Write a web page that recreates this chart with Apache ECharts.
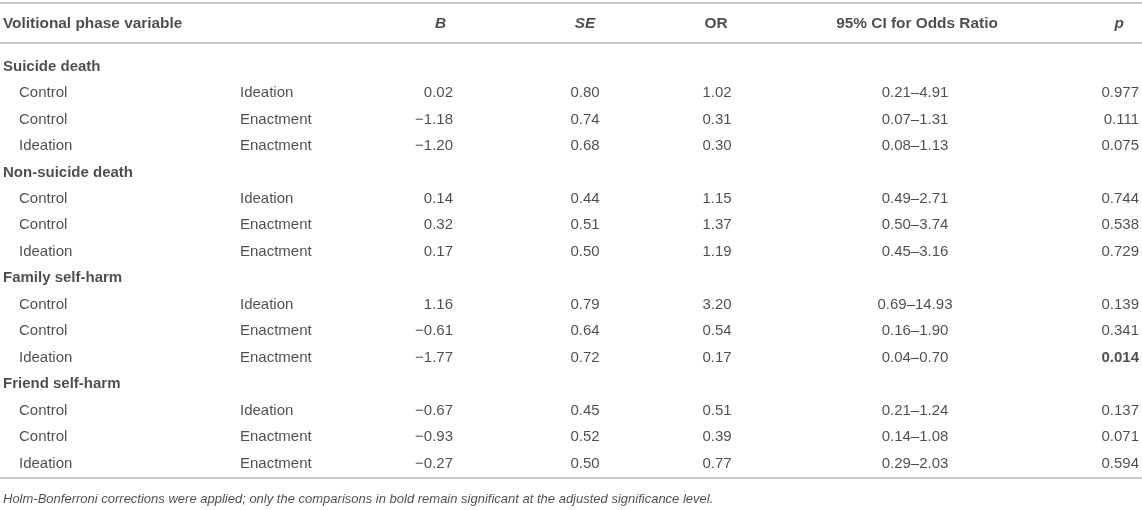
<!DOCTYPE html>
<html>
<head>
<meta charset="utf-8">
<script src="https://cdn.jsdelivr.net/npm/echarts@6/dist/echarts.min.js"></script>
<style>
html,body{margin:0;padding:0;background:#fff;}
#chart{width:1142px;height:510px;}
</style>
</head>
<body>
<div id="chart"></div>
<script>
// ---------- data ----------
const headers = ['Volitional phase variable', 'B', 'SE', 'OR', '95% CI for Odds Ratio', 'p'];
const groups = ['Suicide death', 'Non-suicide death', 'Family self-harm', 'Friend self-harm'];
const compFrom = ['Control', 'Control', 'Ideation'];
const compTo = ['Ideation', 'Enactment', 'Enactment'];
const bValues = [0.02, -1.18, -1.20, 0.14, 0.32, 0.17, 1.16, -0.61, -1.77, -0.67, -0.93, -0.27];
const seValues = [0.80, 0.74, 0.68, 0.44, 0.51, 0.50, 0.79, 0.64, 0.72, 0.45, 0.52, 0.50];
const orValues = [1.02, 0.31, 0.30, 1.15, 1.37, 1.19, 3.20, 0.54, 0.17, 0.51, 0.39, 0.77];
const ciLow = [0.21, 0.07, 0.08, 0.49, 0.50, 0.45, 0.69, 0.16, 0.04, 0.21, 0.14, 0.29];
const ciHigh = [4.91, 1.31, 1.13, 2.71, 3.74, 3.16, 14.93, 1.90, 0.70, 1.24, 1.08, 2.03];
const pValues = [0.977, 0.111, 0.075, 0.744, 0.538, 0.729, 0.139, 0.341, 0.014, 0.137, 0.071, 0.594];
const significant = [false, false, false, false, false, false, false, false, true, false, false, false];
const footnote = 'Holm-Bonferroni corrections were applied; only the comparisons in bold remain significant at the adjusted significance level.';

// ---------- layout ----------
const FONT = "'Liberation Sans', Arial, Helvetica, sans-serif";
const TXT = '#231f20';
const RULE = '#b4b4b4';
const COL = { group: 3, from: 19, to: 240, b: 453, se: 585, or: 717, ci: 915, p: 1139 };
const HEAD_COL = [
  { x: 3, align: 'left', italic: false },
  { x: 446, align: 'right', italic: true },
  { x: 585, align: 'center', italic: true },
  { x: 716, align: 'center', italic: false },
  { x: 917, align: 'center', italic: false },
  { x: 1124, align: 'right', italic: true }
];
const HEADER_ROW = -1.6, TOP_RULE = -2.34, HEAD_RULE = -0.83, BOTTOM_RULE = 15.6, FOOT_ROW = 16.36;

const fmt = (v, d) => (v < 0 ? '\u2212' : '') + Math.abs(v).toFixed(d);

// row index: group header at g*4, its rows at g*4 + k + 1
const rowOf = i => Math.floor(i / 3) * 4 + (i % 3) + 1;

function textSeries(name, points, align, opts) {
  opts = opts || {};
  return {
    name: name, type: 'scatter', symbolSize: 0, silent: true, clip: false,
    data: points.map(p => ({
      value: [p.x, p.y],
      label: p.bold ? { fontWeight: 'bold' } : undefined,
      txt: p.t
    })),
    label: {
      show: true, position: 'inside', align: align, verticalAlign: 'middle',
      offset: [0, 1.5],
      color: TXT, fontFamily: FONT, fontSize: opts.size || 15,
      fontWeight: opts.weight || 'normal', fontStyle: opts.style || 'normal',
      formatter: prm => prm.data.txt
    }
  };
}

const series = [];
// header
headers.forEach((h, i) => {
  const c = HEAD_COL[i];
  series.push(textSeries('h' + i, [{ x: c.x, y: HEADER_ROW, t: h }], c.align,
    { weight: 'bold', size: 15.4, style: c.italic ? 'italic' : 'normal' }));
});
// group titles
series.push(textSeries('groups', groups.map((g, i) => ({ x: COL.group, y: i * 4, t: g })), 'left', { weight: 'bold' }));
// rows
const idx = bValues.map((_, i) => i);
series.push(textSeries('from', idx.map(i => ({ x: COL.from, y: rowOf(i), t: compFrom[i % 3] })), 'left'));
series.push(textSeries('to', idx.map(i => ({ x: COL.to, y: rowOf(i), t: compTo[i % 3] })), 'left'));
series.push(textSeries('B', idx.map(i => ({ x: COL.b, y: rowOf(i), t: fmt(bValues[i], 2) })), 'right'));
series.push(textSeries('SE', idx.map(i => ({ x: COL.se, y: rowOf(i), t: fmt(seValues[i], 2) })), 'center'));
series.push(textSeries('OR', idx.map(i => ({ x: COL.or, y: rowOf(i), t: fmt(orValues[i], 2) })), 'center'));
series.push(textSeries('CI', idx.map(i => ({ x: COL.ci, y: rowOf(i), t: ciLow[i].toFixed(2) + '\u2013' + ciHigh[i].toFixed(2) })), 'center'));
series.push(textSeries('p', idx.map(i => ({ x: COL.p, y: rowOf(i), t: pValues[i].toFixed(3), bold: significant[i] })), 'right'));
// footnote
series.push(textSeries('foot', [{ x: COL.group, y: FOOT_ROW, t: footnote }], 'left', { size: 13, style: 'italic' }));
// rules
series.push({
  type: 'line', silent: true, data: [],
  markLine: {
    silent: true, symbol: 'none', animation: false,
    label: { show: false },
    lineStyle: { color: RULE, width: 1.5, type: 'solid' },
    data: [{ yAxis: TOP_RULE }, { yAxis: HEAD_RULE }, { yAxis: BOTTOM_RULE }]
  }
});

const chart = echarts.init(document.getElementById('chart'), null, { renderer: 'canvas' });
chart.setOption({
  animation: false,
  backgroundColor: '#fff',
  grid: { left: 0, right: 0, top: 1.47, bottom: 10.9 },
  xAxis: { type: 'value', min: 0, max: 1142, show: false },
  yAxis: { type: 'value', min: -2.4, max: 16.4, inverse: true, show: false },
  series: series
});
</script>
</body>
</html>
